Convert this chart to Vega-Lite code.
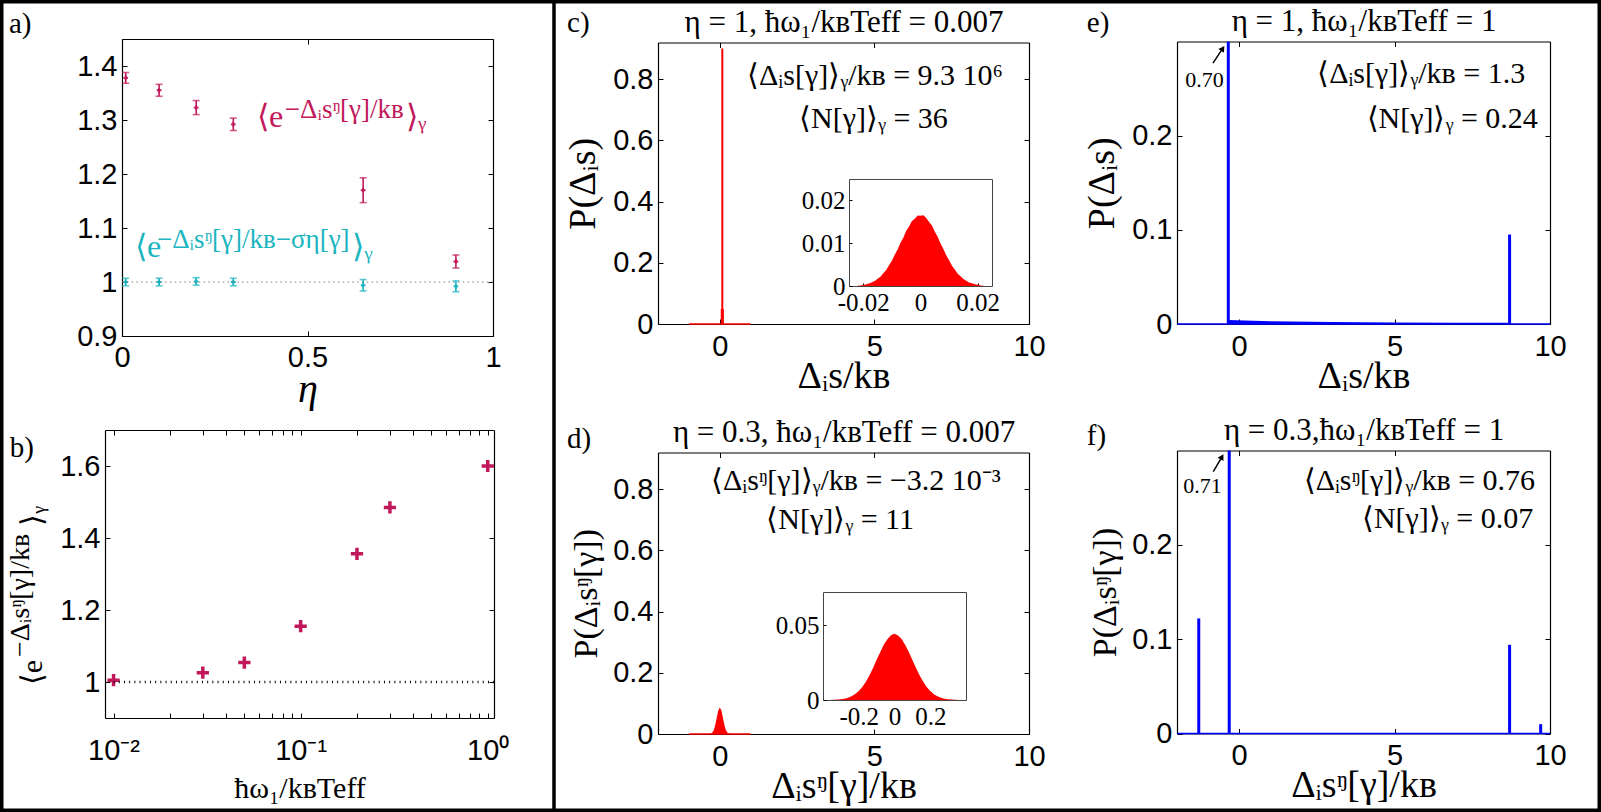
{
  "$schema": "https://vega.github.io/schema/vega-lite/v6.json",
  "width": 1601,
  "height": 812,
  "autosize": {"type": "none"},
  "padding": 0,
  "background": "white",
  "config": {
    "view": {"stroke": "#000", "strokeWidth": 7},
    "axis": {"grid": false, "labelFont": "Liberation Sans", "labelFontSize": 29, "labelColor": "#000", "labelFlush": false, "labelOverlap": false, "labelBound": false, "tickSize": -5, "tickColor": "#000", "tickWidth": 1, "domainColor": "#000", "domainWidth": 1.2, "titleFont": "Liberation Serif", "titleFontWeight": "normal", "titleColor": "#000"},
    "text": {"font": "Liberation Serif", "color": "#000"}
  },
  "datasets": {
    "pa": [
      {"eta": 0.01, "v": 1.378, "lo": 1.368, "hi": 1.388, "series": "plain"},
      {"eta": 0.1, "v": 1.355, "lo": 1.344, "hi": 1.366, "series": "plain"},
      {"eta": 0.2, "v": 1.323, "lo": 1.31, "hi": 1.336, "series": "plain"},
      {"eta": 0.3, "v": 1.292, "lo": 1.2805, "hi": 1.3035, "series": "plain"},
      {"eta": 0.65, "v": 1.17, "lo": 1.147, "hi": 1.193, "series": "plain"},
      {"eta": 0.9, "v": 1.038, "lo": 1.026, "hi": 1.05, "series": "plain"},
      {"eta": 0.01, "v": 1.0, "lo": 0.993, "hi": 1.007, "series": "corr"},
      {"eta": 0.1, "v": 1.0, "lo": 0.993, "hi": 1.007, "series": "corr"},
      {"eta": 0.2, "v": 1.001, "lo": 0.994, "hi": 1.008, "series": "corr"},
      {"eta": 0.3, "v": 1.0, "lo": 0.993, "hi": 1.007, "series": "corr"},
      {"eta": 0.65, "v": 0.994, "lo": 0.9835, "hi": 1.0045, "series": "corr"},
      {"eta": 0.9, "v": 0.992, "lo": 0.982, "hi": 1.002, "series": "corr"}
    ],
    "insc": [
      {"x": -0.022, "p": 0.00008}, {"x": -0.021, "p": 0.00013}, {"x": -0.02, "p": 0.00026}, {"x": -0.019, "p": 0.00043},
      {"x": -0.018, "p": 0.0006}, {"x": -0.017, "p": 0.00088}, {"x": -0.016, "p": 0.00118}, {"x": -0.015, "p": 0.00168},
      {"x": -0.014, "p": 0.00219}, {"x": -0.013, "p": 0.00298}, {"x": -0.012, "p": 0.00374}, {"x": -0.011, "p": 0.00487},
      {"x": -0.01, "p": 0.00588}, {"x": -0.009, "p": 0.00731}, {"x": -0.008, "p": 0.00851}, {"x": -0.007, "p": 0.01012},
      {"x": -0.006, "p": 0.0113}, {"x": -0.005, "p": 0.01291}, {"x": -0.004, "p": 0.01388}, {"x": -0.003, "p": 0.01521},
      {"x": -0.002, "p": 0.0157}, {"x": -0.001, "p": 0.01648}, {"x": 0.0, "p": 0.0164}, {"x": 0.001, "p": 0.01652},
      {"x": 0.002, "p": 0.0159}, {"x": 0.003, "p": 0.01498}, {"x": 0.004, "p": 0.01411}, {"x": 0.005, "p": 0.01268},
      {"x": 0.006, "p": 0.01152}, {"x": 0.007, "p": 0.00993}, {"x": 0.008, "p": 0.00866}, {"x": 0.009, "p": 0.00716},
      {"x": 0.01, "p": 0.00601}, {"x": 0.011, "p": 0.00474}, {"x": 0.012, "p": 0.00385}, {"x": 0.013, "p": 0.00289},
      {"x": 0.014, "p": 0.00227}, {"x": 0.015, "p": 0.00162}, {"x": 0.016, "p": 0.00124}, {"x": 0.017, "p": 0.00084},
      {"x": 0.018, "p": 0.00063}, {"x": 0.019, "p": 0.0004}, {"x": 0.02, "p": 0.00029}, {"x": 0.021, "p": 0.00014},
      {"x": 0.022, "p": 0.00008}
    ],
    "insd": [
      {"x": -0.36, "p": 0.00007}, {"x": -0.34, "p": 0.00014}, {"x": -0.32, "p": 0.00026}, {"x": -0.3, "p": 0.0005},
      {"x": -0.28, "p": 0.00086}, {"x": -0.26, "p": 0.00151}, {"x": -0.24, "p": 0.00246}, {"x": -0.22, "p": 0.00393},
      {"x": -0.2, "p": 0.00592}, {"x": -0.18, "p": 0.00875}, {"x": -0.16, "p": 0.01218}, {"x": -0.14, "p": 0.01658},
      {"x": -0.12, "p": 0.02135}, {"x": -0.1, "p": 0.02678}, {"x": -0.08, "p": 0.03188}, {"x": -0.06, "p": 0.03684},
      {"x": -0.04, "p": 0.04053}, {"x": -0.02, "p": 0.04322}, {"x": 0.0, "p": 0.0441}, {"x": 0.02, "p": 0.04305},
      {"x": 0.04, "p": 0.04071}, {"x": 0.06, "p": 0.03666}, {"x": 0.08, "p": 0.03202}, {"x": 0.1, "p": 0.02661},
      {"x": 0.12, "p": 0.02149}, {"x": 0.14, "p": 0.01645}, {"x": 0.16, "p": 0.01229}, {"x": 0.18, "p": 0.00866},
      {"x": 0.2, "p": 0.00598}, {"x": 0.22, "p": 0.00389}, {"x": 0.24, "p": 0.00249}, {"x": 0.26, "p": 0.00148},
      {"x": 0.28, "p": 0.00088}, {"x": 0.3, "p": 0.00048}, {"x": 0.32, "p": 0.00027}, {"x": 0.34, "p": 0.00013},
      {"x": 0.36, "p": 0.00007}
    ]
  },
  "resolve": {"scale": {"x": "independent", "y": "independent"}, "axis": {"x": "independent", "y": "independent"}},
  "layer": [
    {
      "resolve": {"axis": {"x": "independent", "y": "independent"}},
      "layer": [
        {
          "data": {"name": "pa"},
          "mark": {"type": "rule", "strokeWidth": 1.6},
          "encoding": {
            "x": {"field": "eta", "type": "quantitative", "scale": {"domain": [0, 1], "range": [122, 493], "nice": false, "zero": false},
              "axis": {"orient": "bottom", "offset": -476, "values": [0, 0.5, 1], "format": "~g", "labelPadding": 12, "title": "η", "titleFontSize": 40, "titleFontStyle": "italic", "titlePadding": -3}},
            "y": {"field": "lo", "type": "quantitative", "scale": {"domain": [0.9, 1.45], "range": [336, 39], "nice": false, "zero": false},
              "axis": {"orient": "left", "offset": -122, "values": [0.9, 1, 1.1, 1.2, 1.3, 1.4], "format": "~g", "labelPadding": 10, "title": null}},
            "y2": {"field": "hi"},
            "color": {"field": "series", "type": "nominal", "scale": {"domain": ["plain", "corr"], "range": ["#c2185b", "#1ab5c0"]}, "legend": null}
          }
        },
        {
          "data": {"name": "pa"},
          "mark": {"type": "tick", "orient": "horizontal", "size": 7, "thickness": 1.6},
          "encoding": {
            "x": {"field": "eta", "type": "quantitative", "scale": {"domain": [0, 1], "range": [122, 493], "nice": false, "zero": false}, "axis": null},
            "y": {"field": "lo", "type": "quantitative", "scale": {"domain": [0.9, 1.45], "range": [336, 39], "nice": false, "zero": false}, "axis": null},
            "color": {"field": "series", "type": "nominal", "legend": null}
          }
        },
        {
          "data": {"name": "pa"},
          "mark": {"type": "tick", "orient": "horizontal", "size": 7, "thickness": 1.6},
          "encoding": {
            "x": {"field": "eta", "type": "quantitative", "scale": {"domain": [0, 1], "range": [122, 493], "nice": false, "zero": false}, "axis": null},
            "y": {"field": "hi", "type": "quantitative", "scale": {"domain": [0.9, 1.45], "range": [336, 39], "nice": false, "zero": false}, "axis": null},
            "color": {"field": "series", "type": "nominal", "legend": null}
          }
        },
        {
          "data": {"name": "pa"},
          "mark": {"type": "point", "shape": "cross", "filled": true, "size": 22, "opacity": 1},
          "encoding": {
            "x": {"field": "eta", "type": "quantitative", "scale": {"domain": [0, 1], "range": [122, 493], "nice": false, "zero": false}, "axis": null},
            "y": {"field": "v", "type": "quantitative", "scale": {"domain": [0.9, 1.45], "range": [336, 39], "nice": false, "zero": false}, "axis": null},
            "color": {"field": "series", "type": "nominal", "legend": null}
          }
        },
        {
          "data": {"values": [{"x0": 0, "x1": 1, "y": 1}]},
          "mark": {"type": "rule", "color": "#7f7f7f", "strokeWidth": 1.2, "strokeDash": [1.5, 3.3]},
          "encoding": {
            "x": {"field": "x0", "type": "quantitative", "scale": {"domain": [0, 1], "range": [122, 493], "nice": false, "zero": false},
              "axis": {"orient": "top", "offset": -39, "values": [0, 0.5, 1], "labels": false, "title": null}},
            "x2": {"field": "x1"},
            "y": {"field": "y", "type": "quantitative", "scale": {"domain": [0.9, 1.45], "range": [336, 39], "nice": false, "zero": false},
              "axis": {"orient": "right", "offset": -1108, "values": [0.9, 1, 1.1, 1.2, 1.3, 1.4], "labels": false, "title": null}}
          }
        },
        {
          "data": {"values": [
            {"x": 0.364, "y": 1.287, "t": "⟨e", "series": "plain"},
            {"x": 0.765, "y": 1.287, "t": "⟩ᵧ", "series": "plain"},
            {"x": 0.035, "y": 1.0463, "t": "⟨e", "series": "corr"},
            {"x": 0.62, "y": 1.0463, "t": "⟩ᵧ", "series": "corr"}
          ]},
          "mark": {"type": "text", "align": "left", "baseline": "alphabetic", "fontSize": 32},
          "encoding": {
            "x": {"field": "x", "type": "quantitative", "scale": {"domain": [0, 1], "range": [122, 493], "nice": false, "zero": false}, "axis": null},
            "y": {"field": "y", "type": "quantitative", "scale": {"domain": [0.9, 1.45], "range": [336, 39], "nice": false, "zero": false}, "axis": null},
            "text": {"field": "t", "type": "nominal"},
            "color": {"field": "series", "type": "nominal", "legend": null}
          }
        },
        {
          "data": {"values": [
            {"x": 0.439, "y": 1.3037, "t": "−Δᵢsᵑ[γ]/kʙ", "series": "plain"},
            {"x": 0.0943, "y": 1.063, "t": "−Δᵢsᵑ[γ]/kʙ−ση[γ]", "series": "corr"}
          ]},
          "mark": {"type": "text", "align": "left", "baseline": "alphabetic", "fontSize": 27},
          "encoding": {
            "x": {"field": "x", "type": "quantitative", "scale": {"domain": [0, 1], "range": [122, 493], "nice": false, "zero": false}, "axis": null},
            "y": {"field": "y", "type": "quantitative", "scale": {"domain": [0.9, 1.45], "range": [336, 39], "nice": false, "zero": false}, "axis": null},
            "text": {"field": "t", "type": "nominal"},
            "color": {"field": "series", "type": "nominal", "legend": null}
          }
        },
        {
          "data": {"values": [{"x": -0.3046, "y": 1.461, "t": "a)"}]},
          "mark": {"type": "text", "align": "left", "baseline": "alphabetic", "fontSize": 29},
          "encoding": {
            "x": {"field": "x", "type": "quantitative", "scale": {"domain": [0, 1], "range": [122, 493], "nice": false, "zero": false}, "axis": null},
            "y": {"field": "y", "type": "quantitative", "scale": {"domain": [0.9, 1.45], "range": [336, 39], "nice": false, "zero": false}, "axis": null},
            "text": {"field": "t", "type": "nominal"}
          }
        },
        {
          "data": {"values": [{"x": 1.1644, "y": 1.5222, "y2": 0.0185}]},
          "mark": {"type": "rule", "color": "#000", "strokeWidth": 3.5},
          "encoding": {
            "x": {"field": "x", "type": "quantitative", "scale": {"domain": [0, 1], "range": [122, 493], "nice": false, "zero": false}, "axis": null},
            "y": {"field": "y", "type": "quantitative", "scale": {"domain": [0.9, 1.45], "range": [336, 39], "nice": false, "zero": false}, "axis": null},
            "y2": {"field": "y2"}
          }
        }
      ]
    },
    {
      "resolve": {"axis": {"x": "independent", "y": "independent"}},
      "layer": [
        {
          "data": {"values": [
            {"w": 0.01, "v": 1.005}, {"w": 0.03, "v": 1.026}, {"w": 0.05, "v": 1.054}, {"w": 0.1, "v": 1.155},
            {"w": 0.2, "v": 1.356}, {"w": 0.3, "v": 1.485}, {"w": 1, "v": 1.6}
          ]},
          "mark": {"type": "point", "shape": "M-1,0L1,0M0,-1L0,1", "filled": false, "strokeWidth": 3.5, "size": 150, "color": "#c2185b", "opacity": 1},
          "encoding": {
            "x": {"field": "w", "type": "quantitative", "scale": {"type": "log", "domain": [0.009, 1.08], "range": [105, 494], "nice": false},
              "axis": {"orient": "bottom", "offset": -94, "values": [0.01, 0.02, 0.03, 0.04, 0.05, 0.06, 0.07, 0.08, 0.09, 0.1, 0.2, 0.3, 0.4, 0.5, 0.6, 0.7, 0.8, 0.9, 1],
                "labelExpr": "datum.value == 0.01 ? '10⁻²' : datum.value == 0.1 ? '10⁻¹' : datum.value == 1 ? '10⁰' : ''",
                "labelPadding": 23, "title": "ħω₁/kʙTeff", "titleFontSize": 30, "titlePadding": 8}},
            "y": {"field": "v", "type": "quantitative", "scale": {"domain": [0.9, 1.7], "range": [718, 430], "nice": false, "zero": false},
              "axis": {"orient": "left", "offset": -105, "values": [1, 1.2, 1.4, 1.6], "format": "~g", "labelPadding": 10, "title": null}}
          }
        },
        {
          "data": {"values": [{"x0": 0.01, "x1": 1.08, "y": 1}]},
          "mark": {"type": "rule", "color": "#000", "strokeWidth": 2.5, "strokeDash": [1, 4.2]},
          "encoding": {
            "x": {"field": "x0", "type": "quantitative", "scale": {"type": "log", "domain": [0.009, 1.08], "range": [105, 494], "nice": false},
              "axis": {"orient": "top", "offset": -430, "values": [0.01, 0.02, 0.03, 0.04, 0.05, 0.06, 0.07, 0.08, 0.09, 0.1, 0.2, 0.3, 0.4, 0.5, 0.6, 0.7, 0.8, 0.9, 1], "labels": false, "title": null}},
            "x2": {"field": "x1"},
            "y": {"field": "y", "type": "quantitative", "scale": {"domain": [0.9, 1.7], "range": [718, 430], "nice": false, "zero": false},
              "axis": {"orient": "right", "offset": -1107, "values": [1, 1.2, 1.4, 1.6], "labels": false, "title": null}}
          }
        },
        {
          "data": {"values": [{"x": 0.00412, "y": 0.9908, "t": "⟨e"}, {"x": 0.00412, "y": 1.4333, "t": "⟩ᵧ"}]},
          "mark": {"type": "text", "align": "left", "baseline": "alphabetic", "fontSize": 30, "angle": 270},
          "encoding": {
            "x": {"field": "x", "type": "quantitative", "scale": {"type": "log", "domain": [0.009, 1.08], "range": [105, 494], "nice": false}, "axis": null},
            "y": {"field": "y", "type": "quantitative", "scale": {"domain": [0.9, 1.7], "range": [718, 430], "nice": false, "zero": false}, "axis": null},
            "text": {"field": "t", "type": "nominal"}
          }
        },
        {
          "data": {"values": [{"x": 0.003538, "y": 1.0694, "t": "−Δᵢsᵑ[γ]/kʙ"}]},
          "mark": {"type": "text", "align": "left", "baseline": "alphabetic", "fontSize": 28, "angle": 270},
          "encoding": {
            "x": {"field": "x", "type": "quantitative", "scale": {"type": "log", "domain": [0.009, 1.08], "range": [105, 494], "nice": false}, "axis": null},
            "y": {"field": "y", "type": "quantitative", "scale": {"domain": [0.9, 1.7], "range": [718, 430], "nice": false, "zero": false}, "axis": null},
            "text": {"field": "t", "type": "nominal"}
          }
        },
        {
          "data": {"values": [{"x": 0.00279, "y": 1.625, "t": "b)"}]},
          "mark": {"type": "text", "align": "left", "baseline": "alphabetic", "fontSize": 29},
          "encoding": {
            "x": {"field": "x", "type": "quantitative", "scale": {"type": "log", "domain": [0.009, 1.08], "range": [105, 494], "nice": false}, "axis": null},
            "y": {"field": "y", "type": "quantitative", "scale": {"domain": [0.9, 1.7], "range": [718, 430], "nice": false, "zero": false}, "axis": null},
            "text": {"field": "t", "type": "nominal"}
          }
        }
      ]
    },
    {
      "resolve": {"axis": {"x": "independent", "y": "independent"}},
      "layer": [
        {
          "data": {"values": [{"x": 0.08, "p": 0.9}]},
          "mark": {"type": "rule", "color": "#ff0000", "strokeWidth": 2},
          "encoding": {
            "x": {"field": "x", "type": "quantitative", "scale": {"domain": [-2, 10], "range": [658, 1029], "nice": false, "zero": false},
              "axis": {"orient": "bottom", "offset": -488, "values": [0, 5, 10], "format": "d", "labelPadding": 13, "title": "Δᵢs/kʙ", "titleFontSize": 38, "titlePadding": -4}},
            "y": {"field": "p", "type": "quantitative", "scale": {"domain": [0, 0.92], "range": [324, 42.5], "nice": false, "zero": false},
              "axis": {"orient": "left", "offset": -658, "values": [0, 0.2, 0.4, 0.6, 0.8], "format": "~g", "labelPadding": 10, "title": "P(Δᵢs)", "titleFontSize": 38, "titlePadding": 10}},
            "y2": {"datum": 0}
          }
        },
        {
          "data": {"values": [{"x0": 0.03, "x1": 0.13, "p": 0.049}]},
          "mark": {"type": "rect", "color": "#ff0000"},
          "encoding": {
            "x": {"field": "x0", "type": "quantitative", "scale": {"domain": [-2, 10], "range": [658, 1029], "nice": false, "zero": false},
              "axis": {"orient": "top", "offset": -42.5, "values": [0, 5, 10], "labels": false, "title": "η = 1, ħω₁/kʙTeff = 0.007", "titleFontSize": 31, "titlePadding": 4}},
            "x2": {"field": "x1"},
            "y": {"field": "p", "type": "quantitative", "scale": {"domain": [0, 0.92], "range": [324, 42.5], "nice": false, "zero": false},
              "axis": {"orient": "right", "offset": -572, "values": [0, 0.2, 0.4, 0.6, 0.8], "labels": false, "title": null}},
            "y2": {"datum": 0}
          }
        },
        {
          "data": {"values": [{"x0": -1, "x1": 1, "p": 0}]},
          "mark": {"type": "rule", "color": "#ff0000", "strokeWidth": 1.5},
          "encoding": {
            "x": {"field": "x0", "type": "quantitative", "scale": {"domain": [-2, 10], "range": [658, 1029], "nice": false, "zero": false}, "axis": null},
            "x2": {"field": "x1"},
            "y": {"field": "p", "type": "quantitative", "scale": {"domain": [0, 0.92], "range": [324, 42.5], "nice": false, "zero": false}, "axis": null}
          }
        },
        {
          "data": {"values": [{"x": 5.02, "y": 0.781, "t": "⟨Δᵢs[γ]⟩ᵧ/kʙ = 9.3 10⁶"}, {"x": 4.97, "y": 0.6395, "t": "⟨N[γ]⟩ᵧ = 36"}]},
          "mark": {"type": "text", "align": "center", "baseline": "alphabetic", "fontSize": 30},
          "encoding": {
            "x": {"field": "x", "type": "quantitative", "scale": {"domain": [-2, 10], "range": [658, 1029], "nice": false, "zero": false}, "axis": null},
            "y": {"field": "y", "type": "quantitative", "scale": {"domain": [0, 0.92], "range": [324, 42.5], "nice": false, "zero": false}, "axis": null},
            "text": {"field": "t", "type": "nominal"}
          }
        },
        {
          "data": {"values": [{"x": -4.94, "y": 0.955, "t": "c)"}]},
          "mark": {"type": "text", "align": "left", "baseline": "alphabetic", "fontSize": 29},
          "encoding": {
            "x": {"field": "x", "type": "quantitative", "scale": {"domain": [-2, 10], "range": [658, 1029], "nice": false, "zero": false}, "axis": null},
            "y": {"field": "y", "type": "quantitative", "scale": {"domain": [0, 0.92], "range": [324, 42.5], "nice": false, "zero": false}, "axis": null},
            "text": {"field": "t", "type": "nominal"}
          }
        }
      ]
    },
    {
      "resolve": {"axis": {"x": "independent", "y": "independent"}},
      "layer": [
        {
          "data": {"name": "insc"},
          "mark": {"type": "area", "color": "#ff0000", "line": false},
          "encoding": {
            "x": {"field": "x", "type": "quantitative", "scale": {"domain": [-0.025, 0.025], "range": [849, 992], "nice": false, "zero": false},
              "axis": {"orient": "bottom", "offset": -526, "values": [-0.02, 0, 0.02], "format": "~g", "labelExpr": "replace(datum.label, '−', '-')", "labelFont": "Liberation Serif", "labelFontSize": 25, "labelPadding": 7, "tickSize": -3, "domainColor": "#444", "domainWidth": 1, "title": null}},
            "y": {"field": "p", "type": "quantitative", "scale": {"domain": [0, 0.025], "range": [286, 179], "nice": false, "zero": false},
              "axis": {"orient": "left", "offset": -849, "values": [0, 0.01, 0.02], "format": "~g", "labelFont": "Liberation Serif", "labelFontSize": 25, "labelPadding": 7, "tickSize": -3, "domainColor": "#444", "domainWidth": 1, "title": null}},
            "y2": {"datum": 0}
          }
        },
        {
          "data": {"values": [{"x0": -0.025, "x1": 0.025, "p": 0}]},
          "mark": {"type": "rule", "opacity": 0},
          "encoding": {
            "x": {"field": "x0", "type": "quantitative", "scale": {"domain": [-0.025, 0.025], "range": [849, 992], "nice": false, "zero": false},
              "axis": {"orient": "top", "offset": -179, "ticks": false, "labels": false, "domainColor": "#444", "domainWidth": 1, "title": null}},
            "x2": {"field": "x1"},
            "y": {"field": "p", "type": "quantitative", "scale": {"domain": [0, 0.025], "range": [286, 179], "nice": false, "zero": false},
              "axis": {"orient": "right", "offset": -609, "ticks": false, "labels": false, "domainColor": "#444", "domainWidth": 1, "title": null}}
          }
        }
      ]
    },
    {
      "resolve": {"axis": {"x": "independent", "y": "independent"}},
      "layer": [
        {
          "data": {"values": [
            {"x": -0.35, "p": 0.0002}, {"x": -0.3, "p": 0.001}, {"x": -0.25, "p": 0.0038}, {"x": -0.2, "p": 0.0118},
            {"x": -0.15, "p": 0.0283}, {"x": -0.1, "p": 0.0528}, {"x": -0.05, "p": 0.0768}, {"x": 0.0, "p": 0.087},
            {"x": 0.05, "p": 0.0768}, {"x": 0.1, "p": 0.0528}, {"x": 0.15, "p": 0.0283}, {"x": 0.2, "p": 0.0118},
            {"x": 0.25, "p": 0.0038}, {"x": 0.3, "p": 0.001}, {"x": 0.35, "p": 0.0002}
          ]},
          "mark": {"type": "area", "color": "#ff0000", "line": false},
          "encoding": {
            "x": {"field": "x", "type": "quantitative", "scale": {"domain": [-2, 10], "range": [658, 1029], "nice": false, "zero": false},
              "axis": {"orient": "bottom", "offset": -78, "values": [0, 5, 10], "format": "d", "labelPadding": 13, "title": "Δᵢsᵑ[γ]/kʙ", "titleFontSize": 38, "titlePadding": -4}},
            "y": {"field": "p", "type": "quantitative", "scale": {"domain": [0, 0.92], "range": [734, 452.5], "nice": false, "zero": false},
              "axis": {"orient": "left", "offset": -658, "values": [0, 0.2, 0.4, 0.6, 0.8], "format": "~g", "labelPadding": 10, "title": "P(Δᵢsᵑ[γ])", "titleFontSize": 34, "titlePadding": 9}},
            "y2": {"datum": 0}
          }
        },
        {
          "data": {"values": [{"x0": -1, "x1": 1, "p": 0}]},
          "mark": {"type": "rule", "color": "#ff0000", "strokeWidth": 1.5},
          "encoding": {
            "x": {"field": "x0", "type": "quantitative", "scale": {"domain": [-2, 10], "range": [658, 1029], "nice": false, "zero": false},
              "axis": {"orient": "top", "offset": -452.5, "values": [0, 5, 10], "labels": false, "title": "η = 0.3, ħω₁/kʙTeff = 0.007", "titleFontSize": 31, "titlePadding": 4}},
            "x2": {"field": "x1"},
            "y": {"field": "p", "type": "quantitative", "scale": {"domain": [0, 0.92], "range": [734, 452.5], "nice": false, "zero": false},
              "axis": {"orient": "right", "offset": -572, "values": [0, 0.2, 0.4, 0.6, 0.8], "labels": false, "title": null}}
          }
        },
        {
          "data": {"values": [{"x": 4.4, "y": 0.797, "t": "⟨Δᵢsᵑ[γ]⟩ᵧ/kʙ = −3.2 10⁻³"}, {"x": 3.89, "y": 0.669, "t": "⟨N[γ]⟩ᵧ = 11"}]},
          "mark": {"type": "text", "align": "center", "baseline": "alphabetic", "fontSize": 30},
          "encoding": {
            "x": {"field": "x", "type": "quantitative", "scale": {"domain": [-2, 10], "range": [658, 1029], "nice": false, "zero": false}, "axis": null},
            "y": {"field": "y", "type": "quantitative", "scale": {"domain": [0, 0.92], "range": [734, 452.5], "nice": false, "zero": false}, "axis": null},
            "text": {"field": "t", "type": "nominal"}
          }
        },
        {
          "data": {"values": [{"x": -4.94, "y": 0.934, "t": "d)"}]},
          "mark": {"type": "text", "align": "left", "baseline": "alphabetic", "fontSize": 29},
          "encoding": {
            "x": {"field": "x", "type": "quantitative", "scale": {"domain": [-2, 10], "range": [658, 1029], "nice": false, "zero": false}, "axis": null},
            "y": {"field": "y", "type": "quantitative", "scale": {"domain": [0, 0.92], "range": [734, 452.5], "nice": false, "zero": false}, "axis": null},
            "text": {"field": "t", "type": "nominal"}
          }
        }
      ]
    },
    {
      "resolve": {"axis": {"x": "independent", "y": "independent"}},
      "layer": [
        {
          "data": {"name": "insd"},
          "mark": {"type": "area", "color": "#ff0000", "line": false},
          "encoding": {
            "x": {"field": "x", "type": "quantitative", "scale": {"domain": [-0.4, 0.4], "range": [823, 966], "nice": false, "zero": false},
              "axis": {"orient": "bottom", "offset": -112, "values": [-0.2, 0, 0.2], "format": "~g", "labelExpr": "replace(datum.label, '−', '-')", "labelFont": "Liberation Serif", "labelFontSize": 25, "labelPadding": 7, "tickSize": -3, "domainColor": "#444", "domainWidth": 1, "title": null}},
            "y": {"field": "p", "type": "quantitative", "scale": {"domain": [0, 0.072], "range": [700, 592], "nice": false, "zero": false},
              "axis": {"orient": "left", "offset": -823, "values": [0, 0.05], "format": "~g", "labelFont": "Liberation Serif", "labelFontSize": 25, "labelPadding": 7, "tickSize": -3, "domainColor": "#444", "domainWidth": 1, "title": null}},
            "y2": {"datum": 0}
          }
        },
        {
          "data": {"values": [{"x0": -0.4, "x1": 0.4, "p": 0}]},
          "mark": {"type": "rule", "opacity": 0},
          "encoding": {
            "x": {"field": "x0", "type": "quantitative", "scale": {"domain": [-0.4, 0.4], "range": [823, 966], "nice": false, "zero": false},
              "axis": {"orient": "top", "offset": -592, "ticks": false, "labels": false, "domainColor": "#444", "domainWidth": 1, "title": null}},
            "x2": {"field": "x1"},
            "y": {"field": "p", "type": "quantitative", "scale": {"domain": [0, 0.072], "range": [700, 592], "nice": false, "zero": false},
              "axis": {"orient": "right", "offset": -635, "ticks": false, "labels": false, "domainColor": "#444", "domainWidth": 1, "title": null}}
          }
        }
      ]
    },
    {
      "resolve": {"scale": {"y": "independent"}, "axis": {"x": "independent", "y": "independent"}},
      "layer": [
        {
          "data": {"values": [{"x": -0.35, "p": 0.7}, {"x": 8.7, "p": 0.095}]},
          "mark": {"type": "rule", "color": "#0000ff", "strokeWidth": 3},
          "encoding": {
            "x": {"field": "x", "type": "quantitative", "scale": {"domain": [-2, 10], "range": [1177, 1550], "nice": false, "zero": false},
              "axis": {"orient": "bottom", "offset": -488, "values": [0, 5, 10], "format": "d", "labelPadding": 13, "title": "Δᵢs/kʙ", "titleFontSize": 38, "titlePadding": -4}},
            "y": {"field": "p", "type": "quantitative", "scale": {"domain": [0, 0.3], "range": [324, 41.5], "nice": false, "zero": false, "clamp": true},
              "axis": {"orient": "left", "offset": -1177, "values": [0, 0.1, 0.2], "format": "~g", "labelPadding": 10, "title": "P(Δᵢs)", "titleFontSize": 38, "titlePadding": 10}},
            "y2": {"datum": 0}
          }
        },
        {
          "data": {"values": [{"x": -0.35, "p": 0.0042}, {"x": 1, "p": 0.003}, {"x": 3, "p": 0.002}, {"x": 5, "p": 0.0016}, {"x": 7, "p": 0.0013}, {"x": 8.7, "p": 0.0013}]},
          "mark": {"type": "area", "color": "#0000ff", "line": false},
          "encoding": {
            "x": {"field": "x", "type": "quantitative", "scale": {"domain": [-2, 10], "range": [1177, 1550], "nice": false, "zero": false}, "axis": null},
            "y": {"field": "p", "type": "quantitative", "scale": {"domain": [0, 0.3], "range": [324, 41.5], "nice": false, "zero": false}, "axis": null},
            "y2": {"datum": 0}
          }
        },
        {
          "data": {"values": [{"x0": -2, "x1": 10, "p": 0}]},
          "mark": {"type": "rule", "color": "#0000ff", "strokeWidth": 1.5},
          "encoding": {
            "x": {"field": "x0", "type": "quantitative", "scale": {"domain": [-2, 10], "range": [1177, 1550], "nice": false, "zero": false},
              "axis": {"orient": "top", "offset": -41.5, "values": [0, 5, 10], "labels": false, "title": "η = 1, ħω₁/kʙTeff = 1", "titleFontSize": 31, "titlePadding": 4}},
            "x2": {"field": "x1"},
            "y": {"field": "p", "type": "quantitative", "scale": {"domain": [0, 0.3], "range": [324, 41.5], "nice": false, "zero": false},
              "axis": {"orient": "right", "offset": -51, "values": [0, 0.1, 0.2], "labels": false, "title": null}}
          }
        },
        {
          "data": {"values": [{"x": -0.843, "y": 0.2771, "x2": -0.528, "y2": 0.2927}]},
          "mark": {"type": "rule", "color": "#000", "strokeWidth": 1.5},
          "encoding": {
            "x": {"field": "x", "type": "quantitative", "scale": {"domain": [-2, 10], "range": [1177, 1550], "nice": false, "zero": false}, "axis": null},
            "x2": {"field": "x2"},
            "y": {"field": "y", "type": "quantitative", "scale": {"domain": [0, 0.3], "range": [324, 41.5], "nice": false, "zero": false}, "axis": null},
            "y2": {"field": "y2"}
          }
        },
        {
          "data": {"values": [{"x": -0.528, "y": 0.2927}]},
          "mark": {"type": "point", "shape": "triangle-up", "filled": true, "size": 45, "angle": 34, "color": "#000", "opacity": 1},
          "encoding": {
            "x": {"field": "x", "type": "quantitative", "scale": {"domain": [-2, 10], "range": [1177, 1550], "nice": false, "zero": false}, "axis": null},
            "y": {"field": "y", "type": "quantitative", "scale": {"domain": [0, 0.3], "range": [324, 41.5], "nice": false, "zero": false}, "axis": null}
          }
        },
        {
          "data": {"values": [{"x": -1.117, "y": 0.252, "t": "0.70"}]},
          "mark": {"type": "text", "align": "center", "baseline": "alphabetic", "fontSize": 22},
          "encoding": {
            "x": {"field": "x", "type": "quantitative", "scale": {"domain": [-2, 10], "range": [1177, 1550], "nice": false, "zero": false}, "axis": null},
            "y": {"field": "y", "type": "quantitative", "scale": {"domain": [0, 0.3], "range": [324, 41.5], "nice": false, "zero": false}, "axis": null},
            "text": {"field": "t", "type": "nominal"}
          }
        },
        {
          "data": {"values": [{"x": 9.2, "y": 0.256, "t": "⟨Δᵢs[γ]⟩ᵧ/kʙ = 1.3"}, {"x": 9.61, "y": 0.2085, "t": "⟨N[γ]⟩ᵧ = 0.24"}]},
          "mark": {"type": "text", "align": "right", "baseline": "alphabetic", "fontSize": 30},
          "encoding": {
            "x": {"field": "x", "type": "quantitative", "scale": {"domain": [-2, 10], "range": [1177, 1550], "nice": false, "zero": false}, "axis": null},
            "y": {"field": "y", "type": "quantitative", "scale": {"domain": [0, 0.3], "range": [324, 41.5], "nice": false, "zero": false}, "axis": null},
            "text": {"field": "t", "type": "nominal"}
          }
        },
        {
          "data": {"values": [{"x": -4.9, "y": 0.3104, "t": "e)"}]},
          "mark": {"type": "text", "align": "left", "baseline": "alphabetic", "fontSize": 29},
          "encoding": {
            "x": {"field": "x", "type": "quantitative", "scale": {"domain": [-2, 10], "range": [1177, 1550], "nice": false, "zero": false}, "axis": null},
            "y": {"field": "y", "type": "quantitative", "scale": {"domain": [0, 0.3], "range": [324, 41.5], "nice": false, "zero": false}, "axis": null},
            "text": {"field": "t", "type": "nominal"}
          }
        }
      ]
    },
    {
      "resolve": {"scale": {"y": "independent"}, "axis": {"x": "independent", "y": "independent"}},
      "layer": [
        {
          "data": {"values": [{"x": -1.3, "p": 0.122}, {"x": -0.32, "p": 0.71}, {"x": 8.7, "p": 0.094}, {"x": 9.7, "p": 0.0099}]},
          "mark": {"type": "rule", "color": "#0000ff", "strokeWidth": 3},
          "encoding": {
            "x": {"field": "x", "type": "quantitative", "scale": {"domain": [-2, 10], "range": [1177, 1550], "nice": false, "zero": false},
              "axis": {"orient": "bottom", "offset": -78.5, "values": [0, 5, 10], "format": "d", "labelPadding": 13, "title": "Δᵢsᵑ[γ]/kʙ", "titleFontSize": 38, "titlePadding": -4}},
            "y": {"field": "p", "type": "quantitative", "scale": {"domain": [0, 0.3], "range": [733.5, 450.5], "nice": false, "zero": false, "clamp": true},
              "axis": {"orient": "left", "offset": -1177, "values": [0, 0.1, 0.2], "format": "~g", "labelPadding": 10, "title": "P(Δᵢsᵑ[γ])", "titleFontSize": 34, "titlePadding": 9}},
            "y2": {"datum": 0}
          }
        },
        {
          "data": {"values": [{"x0": -2, "x1": 10, "p": 0}]},
          "mark": {"type": "rule", "color": "#0000ff", "strokeWidth": 1.5},
          "encoding": {
            "x": {"field": "x0", "type": "quantitative", "scale": {"domain": [-2, 10], "range": [1177, 1550], "nice": false, "zero": false},
              "axis": {"orient": "top", "offset": -450.5, "values": [0, 5, 10], "labels": false, "title": "η = 0.3,ħω₁/kʙTeff = 1", "titleFontSize": 31, "titlePadding": 4}},
            "x2": {"field": "x1"},
            "y": {"field": "p", "type": "quantitative", "scale": {"domain": [0, 0.3], "range": [733.5, 450.5], "nice": false, "zero": false},
              "axis": {"orient": "right", "offset": -51, "values": [0, 0.1, 0.2], "labels": false, "title": null}}
          }
        },
        {
          "data": {"values": [{"x": -0.833, "y": 0.2775, "x2": -0.553, "y2": 0.2933}]},
          "mark": {"type": "rule", "color": "#000", "strokeWidth": 1.5},
          "encoding": {
            "x": {"field": "x", "type": "quantitative", "scale": {"domain": [-2, 10], "range": [1177, 1550], "nice": false, "zero": false}, "axis": null},
            "x2": {"field": "x2"},
            "y": {"field": "y", "type": "quantitative", "scale": {"domain": [0, 0.3], "range": [733.5, 450.5], "nice": false, "zero": false}, "axis": null},
            "y2": {"field": "y2"}
          }
        },
        {
          "data": {"values": [{"x": -0.553, "y": 0.2933}]},
          "mark": {"type": "point", "shape": "triangle-up", "filled": true, "size": 45, "angle": 30, "color": "#000", "opacity": 1},
          "encoding": {
            "x": {"field": "x", "type": "quantitative", "scale": {"domain": [-2, 10], "range": [1177, 1550], "nice": false, "zero": false}, "axis": null},
            "y": {"field": "y", "type": "quantitative", "scale": {"domain": [0, 0.3], "range": [733.5, 450.5], "nice": false, "zero": false}, "axis": null}
          }
        },
        {
          "data": {"values": [{"x": -1.18, "y": 0.2546, "t": "0.71"}]},
          "mark": {"type": "text", "align": "center", "baseline": "alphabetic", "fontSize": 22},
          "encoding": {
            "x": {"field": "x", "type": "quantitative", "scale": {"domain": [-2, 10], "range": [1177, 1550], "nice": false, "zero": false}, "axis": null},
            "y": {"field": "y", "type": "quantitative", "scale": {"domain": [0, 0.3], "range": [733.5, 450.5], "nice": false, "zero": false}, "axis": null},
            "text": {"field": "t", "type": "nominal"}
          }
        },
        {
          "data": {"values": [{"x": 9.52, "y": 0.258, "t": "⟨Δᵢsᵑ[γ]⟩ᵧ/kʙ = 0.76"}, {"x": 9.46, "y": 0.2176, "t": "⟨N[γ]⟩ᵧ = 0.07"}]},
          "mark": {"type": "text", "align": "right", "baseline": "alphabetic", "fontSize": 30},
          "encoding": {
            "x": {"field": "x", "type": "quantitative", "scale": {"domain": [-2, 10], "range": [1177, 1550], "nice": false, "zero": false}, "axis": null},
            "y": {"field": "y", "type": "quantitative", "scale": {"domain": [0, 0.3], "range": [733.5, 450.5], "nice": false, "zero": false}, "axis": null},
            "text": {"field": "t", "type": "nominal"}
          }
        },
        {
          "data": {"values": [{"x": -4.9, "y": 0.306, "t": "f)"}]},
          "mark": {"type": "text", "align": "left", "baseline": "alphabetic", "fontSize": 29},
          "encoding": {
            "x": {"field": "x", "type": "quantitative", "scale": {"domain": [-2, 10], "range": [1177, 1550], "nice": false, "zero": false}, "axis": null},
            "y": {"field": "y", "type": "quantitative", "scale": {"domain": [0, 0.3], "range": [733.5, 450.5], "nice": false, "zero": false}, "axis": null},
            "text": {"field": "t", "type": "nominal"}
          }
        }
      ]
    }
  ]
}
